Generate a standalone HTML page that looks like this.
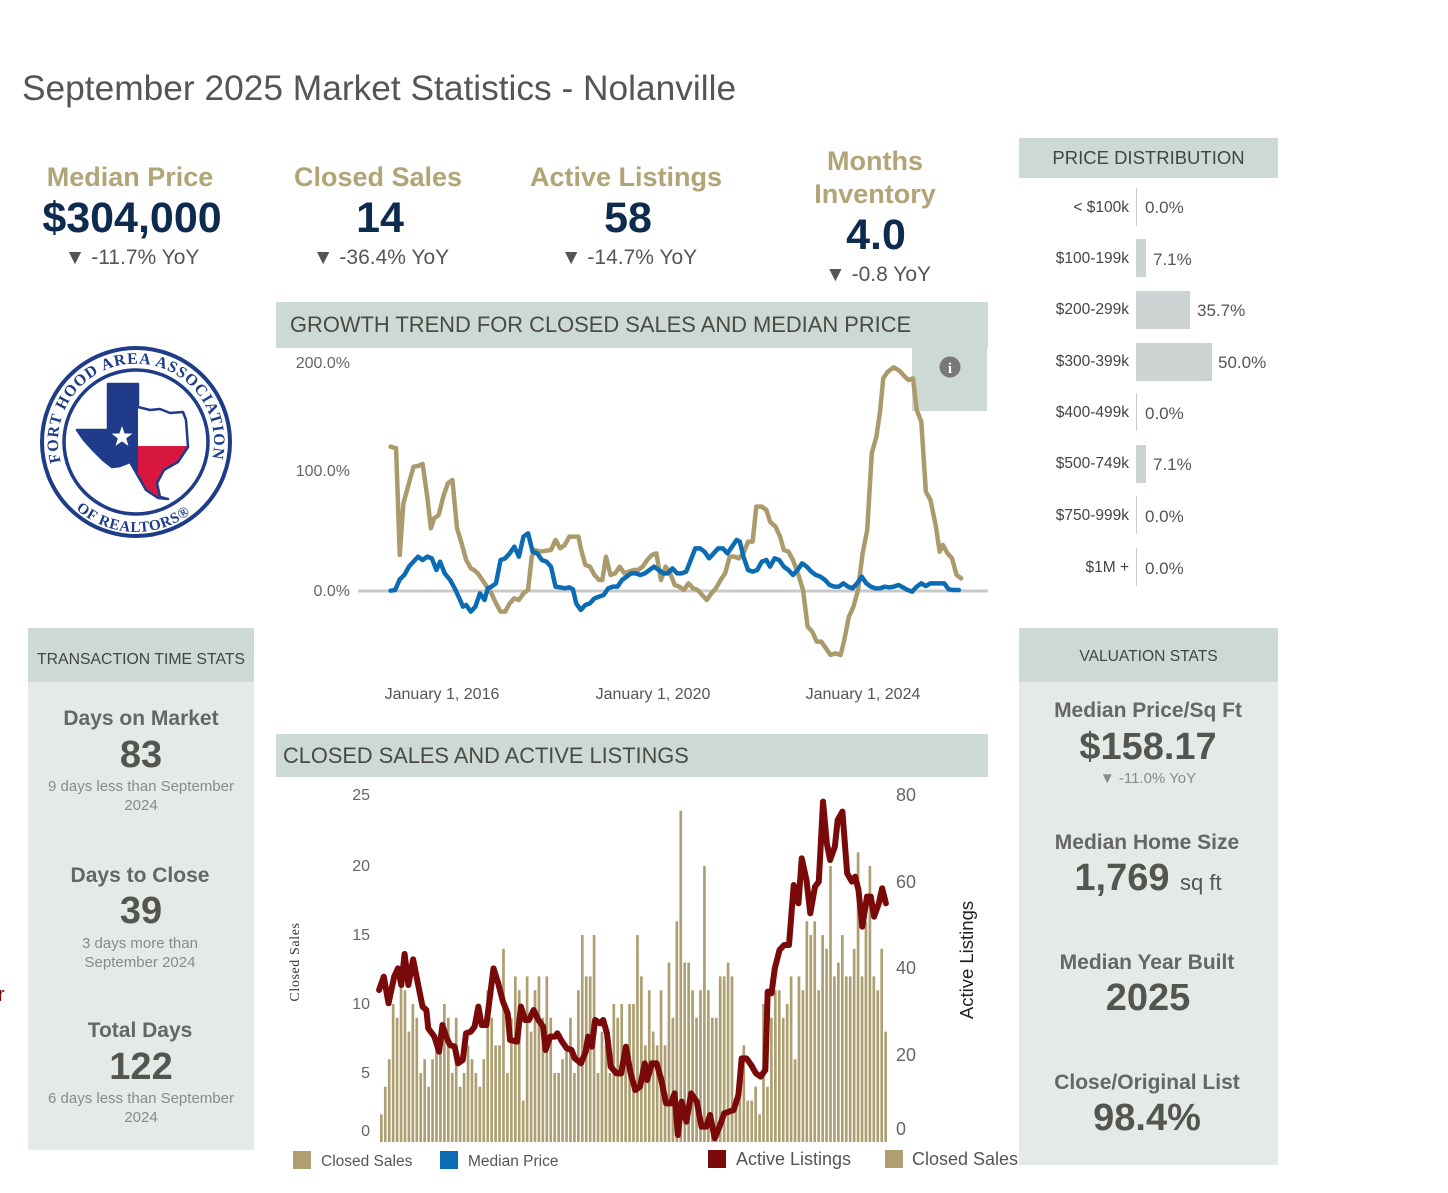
<!DOCTYPE html>
<html><head><meta charset="utf-8">
<style>
html,body{margin:0;padding:0;background:#fff;}
body{width:1448px;height:1193px;position:relative;overflow:hidden;font-family:"Liberation Sans",Arial,sans-serif;}
.a{position:absolute;white-space:nowrap;line-height:1;}
.c{width:300px;text-align:center;}
.kl{font-size:27px;font-weight:bold;color:#b1a476;}
.kv{font-size:43px;font-weight:bold;color:#0d2b4f;}
.ky{font-size:21px;color:#555;}
.hd{position:absolute;background:#cdd9d5;}
.bd{position:absolute;background:#e3eae8;}
.sl{font-size:21px;font-weight:bold;color:#666;}
.sv{font-size:38px;font-weight:bold;color:#55554f;}
.ss{font-size:15px;color:#8a8a8a;}
.pl{font-size:15.5px;color:#444;text-align:right;width:120px;}
.pv{font-size:17px;color:#555;}
</style></head><body>

<div class="a" style="left:22px;top:71px;font-size:35.3px;color:#555;">September 2025 Market Statistics - Nolanville</div>

<!-- KPIs -->
<div class="a c kl" style="left:-20px;top:163.5px">Median Price</div>
<div class="a c kv" style="left:-18px;top:196.5px">$304,000</div>
<div class="a c ky" style="left:-18px;top:246.5px">▼ -11.7% YoY</div>

<div class="a c kl" style="left:228px;top:163.5px">Closed Sales</div>
<div class="a c kv" style="left:230px;top:196.5px">14</div>
<div class="a c ky" style="left:231px;top:246.5px">▼ -36.4% YoY</div>

<div class="a c kl" style="left:476px;top:163.5px">Active Listings</div>
<div class="a c kv" style="left:478px;top:196.5px">58</div>
<div class="a c ky" style="left:479px;top:246.5px">▼ -14.7% YoY</div>

<div class="a c kl" style="left:725px;top:147.5px">Months</div>
<div class="a c kl" style="left:725px;top:180.5px">Inventory</div>
<div class="a c kv" style="left:726px;top:213.5px">4.0</div>
<div class="a c ky" style="left:728px;top:263.5px">▼ -0.8 YoY</div>

<!-- Growth header -->
<div class="hd" style="left:276px;top:302px;width:712px;height:46px;"></div>
<div class="a" style="left:290px;top:314px;font-size:21.9px;color:#4a4a44;">GROWTH TREND FOR CLOSED SALES AND MEDIAN PRICE</div>
<div class="hd" style="left:912px;top:348px;width:75px;height:63px;"></div>

<!-- Closed sales header -->
<div class="hd" style="left:276px;top:734px;width:712px;height:43px;"></div>
<div class="a" style="left:283px;top:744.5px;font-size:21.8px;color:#4a4a44;">CLOSED SALES AND ACTIVE LISTINGS</div>

<!-- Transaction panel -->
<div class="hd" style="left:28px;top:628px;width:226px;height:54px;"></div>
<div class="bd" style="left:28px;top:682px;width:226px;height:468px;"></div>
<!-- Valuation panel -->
<div class="hd" style="left:1019px;top:628px;width:259px;height:54px;"></div>
<div class="bd" style="left:1019px;top:682px;width:259px;height:483px;"></div>
<!-- Price distribution header -->
<div class="hd" style="left:1019px;top:138px;width:259px;height:40px;"></div>

<svg class="a" style="left:0;top:0" width="1448" height="1193">
<!-- info icon -->
<circle cx="950" cy="367" r="10.5" fill="#777"/>
<text x="950" y="373" text-anchor="middle" font-family="Liberation Serif" font-weight="bold" font-size="15" fill="#fff">i</text>

<!-- growth chart -->
<line x1="358" y1="591" x2="988" y2="591" stroke="#c9c9c9" stroke-width="3"/>
<g transform="translate(276,340) scale(0.4583,0.33333)">
<polyline fill="none" stroke="#ab9b6c" stroke-width="4.5" vector-effect="non-scaling-stroke" stroke-linejoin="round" stroke-linecap="round" points="250,320 262,325 270,645 278,490 290,430 300,380 310,378 320,372 330,470 338,565 345,535 355,525 365,470 375,430 385,420 395,565 405,610 415,660 425,685 432,690 440,700 448,715 460,740 470,760 480,790 490,815 500,815 510,790 520,775 530,780 540,760 550,750 558,650 565,630 575,635 590,632 600,630 610,600 620,625 630,615 640,590 650,590 660,590 665,625 675,675 685,680 695,705 705,720 712,720 720,650 730,705 740,700 750,680 760,700 770,695 780,690 790,690 800,680 810,660 820,645 830,640 840,720 850,680 860,700 870,735 880,740 890,750 900,730 910,745 920,750 930,765 940,780 950,760 960,745 970,720 980,700 990,650 1000,650 1010,655 1020,640 1030,605 1040,605 1048,500 1060,500 1070,510 1078,545 1090,560 1100,590 1108,630 1118,635 1128,660 1140,705 1150,750 1160,860 1170,875 1180,905 1190,905 1200,925 1210,945 1220,940 1232,945 1240,900 1250,830 1260,800 1270,750 1280,640 1290,570 1300,340 1310,290 1318,215 1325,115 1335,95 1348,82 1360,92 1372,110 1380,120 1390,115 1398,210 1408,245 1418,455 1428,480 1440,560 1448,635 1455,615 1465,640 1475,655 1485,705 1495,715"/>
<polyline fill="none" stroke="#0b6cb4" stroke-width="4.5" vector-effect="non-scaling-stroke" stroke-linejoin="round" stroke-linecap="round" points="250,752 260,750 270,718 280,705 290,680 300,665 310,650 320,660 330,650 340,655 350,690 358,665 368,700 380,720 390,745 400,775 408,800 415,795 425,815 435,800 445,760 455,780 462,745 470,740 480,730 490,660 500,655 510,640 520,620 530,650 540,590 550,580 560,635 570,640 580,660 590,665 600,680 610,740 620,742 630,745 640,742 648,748 655,790 665,810 675,795 685,790 695,775 705,770 715,765 725,745 735,740 745,740 755,720 765,710 775,700 785,700 795,705 805,700 815,690 825,680 835,690 845,700 855,700 865,685 875,700 885,700 895,695 905,660 915,625 925,625 935,635 945,655 955,640 965,625 975,625 985,640 995,620 1005,600 1012,605 1020,650 1030,690 1040,695 1050,690 1060,665 1070,660 1078,680 1088,655 1098,660 1108,680 1118,690 1128,705 1138,690 1148,670 1158,680 1168,695 1178,705 1188,710 1198,720 1208,735 1218,740 1228,740 1238,730 1248,740 1258,745 1268,730 1278,710 1288,730 1298,740 1308,745 1318,745 1328,740 1338,742 1348,740 1358,735 1368,742 1378,750 1388,755 1398,740 1408,730 1418,738 1428,730 1438,730 1448,730 1458,730 1468,748 1478,750 1490,750"/>
</g>
<g font-family="Liberation Sans" font-size="16" fill="#666" text-anchor="end">
<text x="350" y="368">200.0%</text>
<text x="350" y="476">100.0%</text>
<text x="350" y="596">0.0%</text>
</g>
<g font-family="Liberation Sans" font-size="16" fill="#555" text-anchor="middle">
<text x="442" y="699">January 1, 2016</text>
<text x="653" y="699">January 1, 2020</text>
<text x="863" y="699">January 1, 2024</text>
</g>

<!-- bars -->
<path transform="translate(380,1142) scale(3.94,-13.8)" fill="#ae9f72" d="M0 0h.68v2h-.68z M1 0h.68v4h-.68z M2 0h.68v6h-.68z M3 0h.68v10h-.68z M4 0h.68v9h-.68z M5 0h.68v12h-.68z M6 0h.68v11h-.68z M7 0h.68v8h-.68z M8 0h.68v10h-.68z M9 0h.68v9h-.68z M10 0h.68v5h-.68z M11 0h.68v6h-.68z M12 0h.68v4h-.68z M13 0h.68v6h-.68z M14 0h.68v7h-.68z M15 0h.68v8h-.68z M16 0h.68v10h-.68z M17 0h.68v9h-.68z M18 0h.68v5h-.68z M19 0h.68v9h-.68z M20 0h.68v4h-.68z M21 0h.68v5h-.68z M22 0h.68v7h-.68z M23 0h.68v6h-.68z M24 0h.68v5h-.68z M25 0h.68v4h-.68z M26 0h.68v6h-.68z M27 0h.68v11h-.68z M28 0h.68v9h-.68z M29 0h.68v7h-.68z M30 0h.68v7h-.68z M31 0h.68v14h-.68z M32 0h.68v5h-.68z M33 0h.68v9h-.68z M34 0h.68v12h-.68z M35 0h.68v11h-.68z M36 0h.68v3h-.68z M37 0h.68v12h-.68z M38 0h.68v8h-.68z M39 0h.68v11h-.68z M40 0h.68v12h-.68z M41 0h.68v9h-.68z M42 0h.68v12h-.68z M43 0h.68v9h-.68z M44 0h.68v5h-.68z M45 0h.68v5h-.68z M46 0h.68v6h-.68z M47 0h.68v7h-.68z M48 0h.68v9h-.68z M49 0h.68v5h-.68z M50 0h.68v11h-.68z M51 0h.68v15h-.68z M52 0h.68v12h-.68z M53 0h.68v12h-.68z M54 0h.68v15h-.68z M55 0h.68v5h-.68z M56 0h.68v8h-.68z M57 0h.68v7h-.68z M58 0h.68v5h-.68z M59 0h.68v10h-.68z M60 0h.68v9h-.68z M61 0h.68v10h-.68z M62 0h.68v6h-.68z M63 0h.68v10h-.68z M64 0h.68v10h-.68z M65 0h.68v15h-.68z M66 0h.68v12h-.68z M67 0h.68v7h-.68z M68 0h.68v11h-.68z M69 0h.68v8h-.68z M70 0h.68v7h-.68z M71 0h.68v11h-.68z M72 0h.68v7h-.68z M73 0h.68v13h-.68z M74 0h.68v9h-.68z M75 0h.68v16h-.68z M76 0h.68v24h-.68z M77 0h.68v13h-.68z M78 0h.68v13h-.68z M79 0h.68v11h-.68z M80 0h.68v9h-.68z M81 0h.68v11h-.68z M82 0h.68v20h-.68z M83 0h.68v11h-.68z M84 0h.68v9h-.68z M85 0h.68v9h-.68z M86 0h.68v12h-.68z M87 0h.68v12h-.68z M88 0h.68v13h-.68z M89 0h.68v12h-.68z M90 0h.68v3h-.68z M91 0h.68v6h-.68z M92 0h.68v7h-.68z M93 0h.68v3h-.68z M94 0h.68v3h-.68z M95 0h.68v4h-.68z M96 0h.68v2h-.68z M97 0h.68v10h-.68z M98 0h.68v4h-.68z M99 0h.68v9h-.68z M100 0h.68v11h-.68z M101 0h.68v11h-.68z M102 0h.68v9h-.68z M103 0h.68v10h-.68z M104 0h.68v12h-.68z M105 0h.68v6h-.68z M106 0h.68v12h-.68z M107 0h.68v11h-.68z M108 0h.68v16h-.68z M109 0h.68v15h-.68z M110 0h.68v16h-.68z M111 0h.68v11h-.68z M112 0h.68v15h-.68z M113 0h.68v14h-.68z M114 0h.68v20h-.68z M115 0h.68v12h-.68z M116 0h.68v13h-.68z M117 0h.68v15h-.68z M118 0h.68v12h-.68z M119 0h.68v12h-.68z M120 0h.68v14h-.68z M121 0h.68v21h-.68z M122 0h.68v12h-.68z M123 0h.68v16h-.68z M124 0h.68v20h-.68z M125 0h.68v12h-.68z M126 0h.68v11h-.68z M127 0h.68v14h-.68z M128 0h.68v8h-.68z"/>
<g transform="translate(276,780) scale(0.4728,0.33333)">
<polyline fill="none" stroke="#7a0a0a" stroke-width="6" vector-effect="non-scaling-stroke" stroke-linejoin="round" stroke-linecap="round" points="218,630 228,590 238,670 250,590 258,565 265,615 272,522 280,615 290,538 300,610 310,680 318,690 322,745 335,770 345,815 352,735 360,770 368,795 378,800 385,850 395,840 402,760 412,755 420,740 428,680 435,735 445,735 460,565 470,610 480,665 490,700 495,780 510,785 518,680 527,720 535,720 545,690 555,720 565,740 570,810 580,770 590,770 595,760 605,785 615,805 625,810 632,835 645,850 655,815 660,770 668,800 675,720 685,730 692,720 700,760 708,860 720,880 730,880 740,800 750,880 760,930 770,920 780,850 785,900 795,850 805,850 815,900 825,970 835,970 843,940 850,1065 858,965 868,1025 878,940 890,965 900,1040 910,1040 918,1005 928,1075 938,1040 948,1000 958,995 968,990 978,945 985,835 995,835 1005,855 1015,880 1025,890 1035,870 1040,635 1048,640 1055,565 1065,510 1075,495 1085,495 1095,315 1105,370 1112,235 1122,300 1130,400 1140,320 1148,305 1157,65 1165,190 1172,240 1182,200 1188,120 1198,95 1208,280 1218,305 1225,290 1232,330 1240,440 1250,350 1258,350 1265,410 1275,370 1282,325 1290,370"/>
</g>
<g font-family="Liberation Sans" font-size="16" fill="#666" text-anchor="end">
<text x="370" y="800">25</text><text x="370" y="871">20</text><text x="370" y="940">15</text>
<text x="370" y="1009">10</text><text x="370" y="1078">5</text><text x="370" y="1136">0</text>
</g>
<g font-family="Liberation Sans" font-size="18" fill="#666">
<text x="896" y="801">80</text><text x="896" y="888">60</text><text x="896" y="974">40</text>
<text x="896" y="1061">20</text><text x="896" y="1135">0</text>
</g>
<text x="296" y="962" transform="rotate(-90 296 962)" text-anchor="middle" dominant-baseline="middle" font-family="Liberation Serif" font-size="14" fill="#333" letter-spacing="0.6">Closed Sales</text>
<text x="968" y="960" transform="rotate(-90 968 960)" text-anchor="middle" dominant-baseline="middle" font-family="Liberation Sans" font-size="18.5" fill="#222">Active Listings</text>

<!-- legend -->
<rect x="293" y="1151" width="18" height="18" fill="#ae9f72"/>
<rect x="440" y="1151" width="18" height="18" fill="#0b6cb4"/>
<rect x="708" y="1150" width="18" height="18" fill="#7a0a0a"/>
<rect x="885" y="1150" width="18" height="18" fill="#ae9f72"/>
<g font-family="Liberation Sans" fill="#555">
<text x="321" y="1166" font-size="15.5">Closed Sales</text>
<text x="468" y="1166" font-size="15.5">Median Price</text>
<text x="736" y="1165" font-size="18">Active Listings</text>
<text x="912" y="1165" font-size="18">Closed Sales</text>
</g>

<!-- logo -->
<circle cx="136" cy="442" r="94" fill="#fff" stroke="#1e3c87" stroke-width="4"/>
<circle cx="136" cy="442" r="72" fill="none" stroke="#1e3c87" stroke-width="3.5"/>
<defs>
<path id="arcT" d="M60.7,462 A78,78 0 1 1 211.3,462"/>
<path id="arcB" d="M76,509 A90,90 0 0 0 196,509"/>
<clipPath id="tx"><polygon points="108,384 138,384 138,407 150,410 160,409 170,413 183,412 186,420 188,447 178,462 164,470 157,483 160,497 168,499 158,498 146,490 138,476 130,462 120,466 112,467 103,460 93,450 84,440 77,430 108,430"/></clipPath>
</defs>
<text font-family="Liberation Serif" font-weight="bold" font-size="16" fill="#1e3c87"><textPath href="#arcT" textLength="282" lengthAdjust="spacing">FORT HOOD AREA ASSOCIATION</textPath></text>
<text font-family="Liberation Serif" font-weight="bold" font-size="15" fill="#1e3c87"><textPath href="#arcB" textLength="124" lengthAdjust="spacing">OF REALTORS®</textPath></text>
<g clip-path="url(#tx)">
<rect x="70" y="380" width="68" height="125" fill="#1f3b8a"/>
<rect x="138" y="380" width="60" height="66" fill="#fff"/>
<rect x="138" y="446" width="60" height="60" fill="#d8173f"/>
</g>
<polygon points="108,384 138,384 138,407 150,410 160,409 170,413 183,412 186,420 188,447 178,462 164,470 157,483 160,497 168,499 158,498 146,490 138,476 130,462 120,466 112,467 103,460 93,450 84,440 77,430 108,430" fill="none" stroke="#1f3b8a" stroke-width="2.5" stroke-linejoin="round"/>
<polygon points="122,426 124.59,433.44 132.46,433.6 126.18,438.36 128.47,445.9 122,441.4 115.53,445.9 117.82,438.36 111.54,433.6 119.41,433.44" fill="#fff"/>
</svg>

<!-- Price distribution -->
<div class="a" style="left:1019px;top:149px;width:259px;text-align:center;font-size:18.5px;color:#444;">PRICE DISTRIBUTION</div>

<div class="a pl" style="left:1009px;top:199.5px">&lt; $100k</div>
<div class="a" style="left:1136px;top:188px;width:1px;height:38px;background:#ccc"></div>
<div class="a pv" style="left:1145px;top:199px">0.0%</div>

<div class="a pl" style="left:1009px;top:250.5px">$100-199k</div>
<div class="a" style="left:1136px;top:239px;width:10px;height:38px;background:#ccd3d2"></div>
<div class="a pv" style="left:1153px;top:251px">7.1%</div>

<div class="a pl" style="left:1009px;top:301.5px">$200-299k</div>
<div class="a" style="left:1136px;top:291px;width:54px;height:38px;background:#ccd3d2"></div>
<div class="a pv" style="left:1197px;top:302px">35.7%</div>

<div class="a pl" style="left:1009px;top:353.5px">$300-399k</div>
<div class="a" style="left:1136px;top:343px;width:76px;height:38px;background:#ccd3d2"></div>
<div class="a pv" style="left:1218px;top:354px">50.0%</div>

<div class="a pl" style="left:1009px;top:404.5px">$400-499k</div>
<div class="a" style="left:1136px;top:393px;width:1px;height:38px;background:#ccc"></div>
<div class="a pv" style="left:1145px;top:405px">0.0%</div>

<div class="a pl" style="left:1009px;top:455.5px">$500-749k</div>
<div class="a" style="left:1136px;top:445px;width:10px;height:38px;background:#ccd3d2"></div>
<div class="a pv" style="left:1153px;top:456px">7.1%</div>

<div class="a pl" style="left:1009px;top:507.5px">$750-999k</div>
<div class="a" style="left:1136px;top:496px;width:1px;height:38px;background:#ccc"></div>
<div class="a pv" style="left:1145px;top:508px">0.0%</div>

<div class="a pl" style="left:1009px;top:559.5px">$1M +</div>
<div class="a" style="left:1136px;top:548px;width:1px;height:38px;background:#ccc"></div>
<div class="a pv" style="left:1145px;top:560px">0.0%</div>

<!-- Transaction stats -->
<div class="a" style="left:28px;top:652px;width:226px;text-align:center;font-size:15.8px;color:#444;">TRANSACTION TIME STATS</div>
<div class="a c sl" style="left:-9px;top:707.5px">Days on Market</div>
<div class="a c sv" style="left:-9px;top:736px">83</div>
<div class="a c ss" style="left:-9px;top:778.5px">9 days less than September</div>
<div class="a c ss" style="left:-9px;top:797.5px">2024</div>
<div class="a c sl" style="left:-10px;top:864.5px">Days to Close</div>
<div class="a c sv" style="left:-9px;top:892px">39</div>
<div class="a c ss" style="left:-10px;top:935.5px">3 days more than</div>
<div class="a c ss" style="left:-10px;top:954.5px">September 2024</div>
<div class="a c sl" style="left:-10px;top:1019.5px">Total Days</div>
<div class="a c sv" style="left:-9px;top:1048px">122</div>
<div class="a c ss" style="left:-9px;top:1090.5px">6 days less than September</div>
<div class="a c ss" style="left:-9px;top:1109.5px">2024</div>

<div class="a" style="left:-2px;top:985px;font-size:20px;color:#7a0a0a;">r</div>

<!-- Valuation stats -->
<div class="a" style="left:1019px;top:649px;width:259px;text-align:center;font-size:15.6px;color:#444;">VALUATION STATS</div>
<div class="a c sl" style="left:998px;top:699.5px">Median Price/Sq Ft</div>
<div class="a c sv" style="left:998px;top:728px">$158.17</div>
<div class="a c ss" style="left:998px;top:770.5px">▼ -11.0% YoY</div>
<div class="a c sl" style="left:997px;top:831.5px">Median Home Size</div>
<div class="a c sv" style="left:998px;top:859px">1,769 <span style="font-size:22px;font-weight:normal">sq ft</span></div>
<div class="a c sl" style="left:997px;top:951.5px">Median Year Built</div>
<div class="a c sv" style="left:998px;top:979px">2025</div>
<div class="a c sl" style="left:997px;top:1071.5px">Close/Original List</div>
<div class="a c sv" style="left:997px;top:1099px">98.4%</div>

</body></html>
